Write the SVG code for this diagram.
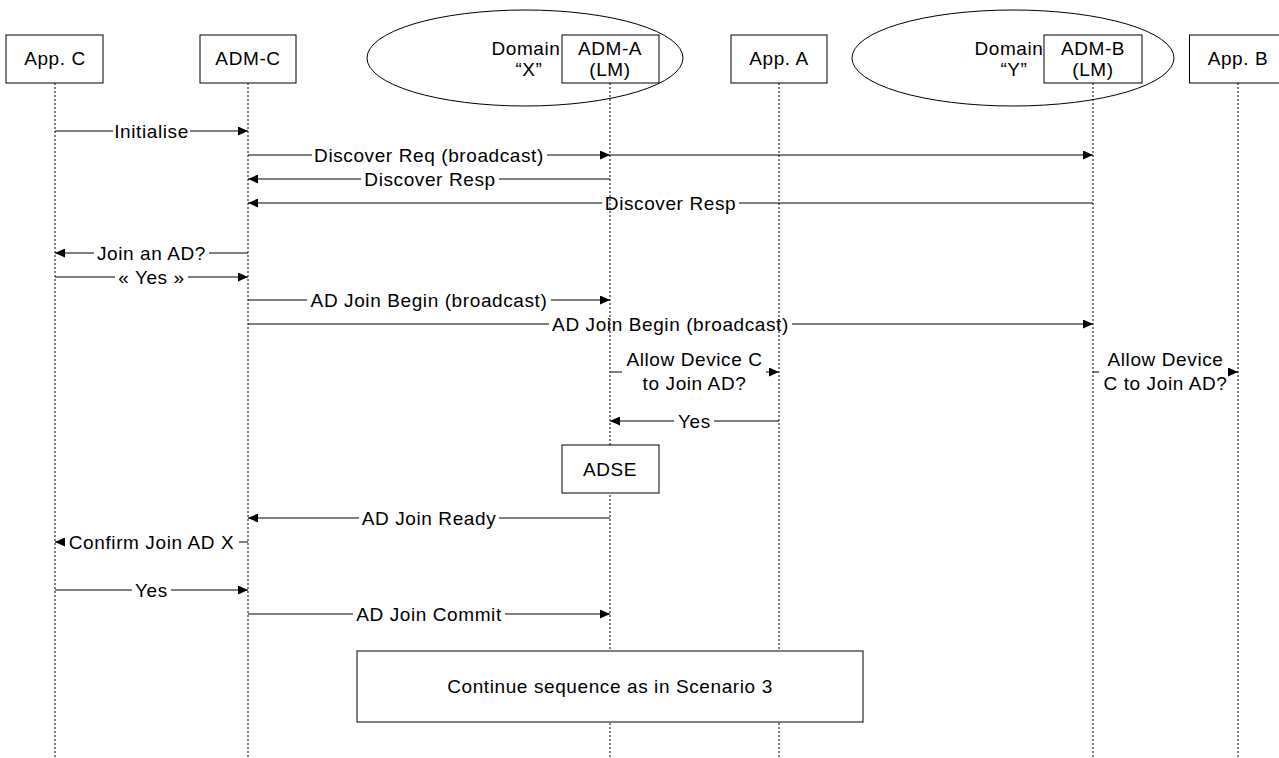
<svg xmlns="http://www.w3.org/2000/svg" width="1279" height="758" viewBox="0 0 1279 758">
<style>
text{font-family:"Liberation Sans",Arial,sans-serif;font-size:19px;letter-spacing:0.6px;fill:#000;text-anchor:middle}
.box{fill:#fff;stroke:#000;stroke-width:1}
.ell{fill:none;stroke:#000;stroke-width:1}
.life{stroke:#000;stroke-width:1;stroke-dasharray:2,2}
.msg{stroke:#000;stroke-width:1;fill:none}
.arr{marker-end:url(#ah)}
</style>
<defs>
<marker id="ah" markerUnits="userSpaceOnUse" markerWidth="10" markerHeight="9" refX="10" refY="4.5" orient="auto">
<path d="M0,0 L10,4.5 L0,9 z" fill="#000"/>
</marker>
</defs>
<rect width="1279" height="758" fill="#fff"/>
<g id="lifelines">
<line class="life" x1="55" y1="83" x2="55" y2="758"/>
<line class="life" x1="248" y1="83" x2="248" y2="758"/>
<line class="life" x1="610" y1="83" x2="610" y2="758"/>
<line class="life" x1="779" y1="83" x2="779" y2="758"/>
<line class="life" x1="1093" y1="83" x2="1093" y2="758"/>
<line class="life" x1="1238" y1="83" x2="1238" y2="758"/>
</g>
<g id="domainX">
<ellipse class="ell" cx="525" cy="58" rx="158" ry="48"/>
<text x="526" y="55">Domain</text>
<text x="529" y="76">“X”</text>
</g>
<g id="domainY">
<ellipse class="ell" cx="1013" cy="58" rx="161" ry="48"/>
<text x="1009" y="55">Domain</text>
<text x="1014" y="76">“Y”</text>
</g>
<g id="appC"><rect class="box" x="6" y="35" width="97" height="48"/><text x="55" y="65">App. C</text></g>
<g id="admC"><rect class="box" x="200" y="35" width="96" height="48"/><text x="248" y="65">ADM-C</text></g>
<g id="admA"><rect class="box" x="562" y="35" width="97" height="48"/><text x="610" y="55">ADM-A</text><text x="610" y="76">(LM)</text></g>
<g id="appA"><rect class="box" x="731" y="35" width="96" height="48"/><text x="779" y="65">App. A</text></g>
<g id="admB"><rect class="box" x="1044" y="35" width="98" height="48"/><text x="1093" y="55">ADM-B</text><text x="1093" y="76">(LM)</text></g>
<g id="appB"><rect class="box" x="1189.5" y="35" width="97" height="48"/><text x="1238" y="65">App. B</text></g>
<g id="adse"><rect class="box" x="562" y="445" width="97" height="48"/><text x="610" y="476">ADSE</text></g>
<g id="cont"><rect class="box" x="357" y="651" width="506" height="71"/><text x="610" y="693">Continue sequence as in Scenario 3</text></g>
<g id="connectors">
<line class="msg" x1="55" y1="131" x2="113" y2="131"/><line class="msg arr" x1="190" y1="131" x2="248" y2="131"/>
<text x="151.5" y="137.5">Initialise</text>
<line class="msg" x1="248" y1="155" x2="312" y2="155"/><line class="msg arr" x1="547" y1="155" x2="610" y2="155"/>
<line class="msg arr" x1="610" y1="155" x2="1093" y2="155"/>
<text x="429" y="161.5">Discover Req (broadcast)</text>
<line class="msg arr" x1="361" y1="179" x2="248" y2="179"/><line class="msg" x1="499" y1="179" x2="610" y2="179"/>
<text x="430" y="185.5">Discover Resp</text>
<line class="msg arr" x1="602" y1="203" x2="248" y2="203"/><line class="msg" x1="739" y1="203" x2="1093" y2="203"/>
<text x="670.5" y="209.5">Discover Resp</text>
<line class="msg arr" x1="94" y1="253" x2="55" y2="253"/><line class="msg" x1="209" y1="253" x2="248" y2="253"/>
<text x="151.5" y="259.5">Join an AD?</text>
<line class="msg" x1="55" y1="277" x2="115" y2="277"/><line class="msg arr" x1="188" y1="277" x2="248" y2="277"/>
<text x="151.5" y="283.5">« Yes »</text>
<line class="msg" x1="248" y1="300" x2="307" y2="300"/><line class="msg arr" x1="551" y1="300" x2="610" y2="300"/>
<text x="429" y="306.5">AD Join Begin (broadcast)</text>
<line class="msg" x1="248" y1="324" x2="549" y2="324"/><line class="msg arr" x1="792" y1="324" x2="1093" y2="324"/>
<text x="670.5" y="330.5">AD Join Begin (broadcast)</text>
<line class="msg" x1="610" y1="372" x2="622" y2="372"/><line class="msg arr" x1="766" y1="372" x2="779" y2="372"/>
<text x="694.5" y="366">Allow Device C</text>
<text x="694.5" y="390">to Join AD?</text>
<line class="msg" x1="1093" y1="372" x2="1099" y2="372"/><line class="msg arr" x1="1230" y1="372" x2="1238" y2="372"/>
<text x="1165.5" y="366">Allow Device</text>
<text x="1165.5" y="390">C to Join AD?</text>
<line class="msg arr" x1="674" y1="421" x2="610" y2="421"/><line class="msg" x1="714" y1="421" x2="779" y2="421"/>
<text x="694.5" y="427.5">Yes</text>
<line class="msg arr" x1="359" y1="518" x2="248" y2="518"/><line class="msg" x1="499" y1="518" x2="610" y2="518"/>
<text x="429" y="524.5">AD Join Ready</text>
<line class="msg arr" x1="64" y1="542" x2="55" y2="542"/><line class="msg" x1="239" y1="542" x2="248" y2="542"/>
<text x="151.5" y="548.5">Confirm Join AD X</text>
<line class="msg" x1="55" y1="590" x2="132" y2="590"/><line class="msg arr" x1="171" y1="590" x2="248" y2="590"/>
<text x="151.5" y="596.5">Yes</text>
<line class="msg" x1="248" y1="614" x2="353" y2="614"/><line class="msg arr" x1="505" y1="614" x2="610" y2="614"/>
<text x="429" y="620.5">AD Join Commit</text>
</g>
</svg>
